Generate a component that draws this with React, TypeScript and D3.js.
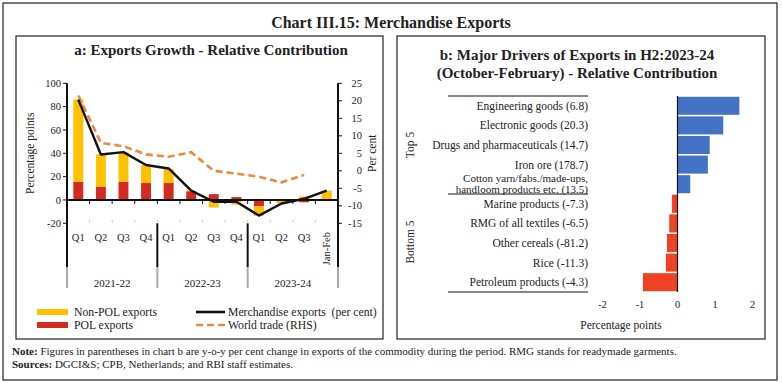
import React from "react";
import * as d3 from "d3";

// ---------- Panel a data ----------
const categories = ["Q1", "Q2", "Q3", "Q4", "Q1", "Q2", "Q3", "Q4", "Q1", "Q2", "Q3", "Jan-Feb"];
const years = ["2021-22", "2022-23", "2023-24"];
const yearSpans = [4, 4, 4];
const polExports = [15.5, 11.5, 15.5, 14.5, 14.5, 7.5, 5, 2.5, -5.5, -0.3, -2, 0.3];
const nonPolExports = [70.5, 27.5, 25.5, 15.5, 12, 0.5, -6.5, -4, -8, -2.6, 3, 7.7];
const merchandiseExports = [86, 39, 41, 30, 27, 8, -1.5, -1.5, -13.4, -3, 1, 8];
const worldTrade: (number | null)[] = [21.5, 8, 7, 4.7, 4, 5.3, 0, -0.8, -1.7, -3.3, -1.2, null];
const leftTicks = [-20, 0, 20, 40, 60, 80, 100];
const rightTicks = [-15, -10, -5, 0, 5, 10, 15, 20, 25];

// ---------- Panel b data ----------
const drivers = [
  "Engineering goods (6.8)",
  "Electronic goods (20.3)",
  "Drugs and pharmaceuticals (14.7)",
  "Iron ore (178.7)",
  "Cotton yarn/fabs./made-ups,|handloom products etc. (13.5)",
  "Marine products (-7.3)",
  "RMG of all textiles (-6.5)",
  "Other cereals (-81.2)",
  "Rice (-11.3)",
  "Petroleum products (-4.3)",
];
const driverValues = [1.65, 1.22, 0.86, 0.81, 0.34, -0.15, -0.22, -0.28, -0.31, -0.92];
const driverTicks = [-2, -1, 0, 1, 2];

const FONT = "'Liberation Serif', 'DejaVu Serif', serif";
const YELLOW = "#FFC000";
const RED = "#D42A22";
const ORANGE = "#F4863A";
const BLUE = "#4472C4";
const BRED = "#EF4123";
const TXT = "#222";

export default function App() {
  const plotL = 67, plotR = 338, plotT = 83.3, plotB = 223.3;
  const idx = categories.map((_, i) => i);
  const x = d3.scaleBand<number>().domain(idx).range([plotL, plotR]).paddingInner(0.56).paddingOuter(0.28);
  const yL = d3.scaleLinear().domain([-20, 100]).range([plotB, plotT]);
  const yR = d3.scaleLinear().domain([-15, 25]).range([plotB, plotT]);
  const step = x.step();
  const cx = (i: number) => (x(i) as number) + x.bandwidth() / 2;

  const rows = idx.map((i) => ({ pol: polExports[i], non: nonPolExports[i] }));
  const stack = d3.stack<{ pol: number; non: number }>().keys(["pol", "non"]).offset(d3.stackOffsetDiverging);
  const series = stack(rows);
  const colors: Record<string, string> = { pol: RED, non: YELLOW };

  const merchLine = d3.line<number>().x((_, i) => cx(i)).y((d) => yL(d));
  const wtLine = d3
    .line<number | null>()
    .defined((d) => d !== null)
    .x((_, i) => cx(i))
    .y((d) => yR(d as number));

  const bounds: number[] = [];
  let acc = 0;
  yearSpans.forEach((s) => {
    bounds.push(plotL + acc * step);
    acc += s;
  });
  bounds.push(plotL + acc * step);

  const yB = d3.scaleBand<string>().domain(drivers).range([96, 292]).paddingInner(0.08).paddingOuter(0.04);
  const xB = d3.scaleLinear().domain([-2, 2]).range([602.5, 752.5]);
  const midSep = (yB(drivers[4]) as number) + yB.bandwidth() + (yB.step() - yB.bandwidth()) / 2;

  return (
    <svg
      width={782}
      height={383}
      style={{ position: "absolute", left: 0, top: 0, background: "#fff" }}
      fontFamily={FONT}
    >
      <rect x={0} y={0} width={782} height={383} fill="#fff" />
      <rect x={3} y={3} width={774} height={377} fill="none" stroke="#222" strokeWidth={1.2} />
      <text x={391} y={22} textAnchor="middle" dy="0.35em" fontSize={16} fontWeight="bold" fill={TXT}>
        Chart III.15: Merchandise Exports
      </text>

      <rect x={16} y={36} width={367} height={303} fill="none" stroke="#222" strokeWidth={1.2} />
      <rect x={397} y={36} width={368} height={303} fill="none" stroke="#222" strokeWidth={1.2} />

      {/* ---------- Panel a ---------- */}
      <text x={211} y={50} textAnchor="middle" dy="0.35em" fontSize={15} fontWeight="bold" fill={TXT}>
        a: Exports Growth - Relative Contribution
      </text>

      {series.map((s) =>
        s.map((d, i) => {
          const y0 = yL(d[0]);
          const y1 = yL(d[1]);
          const h = Math.abs(y0 - y1);
          if (h < 0.01) return null;
          return (
            <rect
              key={s.key + i}
              x={x(i) as number}
              y={Math.min(y0, y1)}
              width={x.bandwidth()}
              height={h}
              fill={colors[s.key]}
            />
          );
        })
      )}

      <line x1={plotL} x2={plotR} y1={yL(0)} y2={yL(0)} stroke="#111" strokeWidth={2} />
      {d3.range(1, categories.length).map((i) => (
        <g key={"xt" + i}>
          <line x1={plotL + i * step} x2={plotL + i * step} y1={yL(0)} y2={yL(0) + 4} stroke="#111" strokeWidth={1} />
          <line x1={plotL + i * step} x2={plotL + i * step} y1={plotB - 3} y2={plotB - 1} stroke="#bbb" strokeWidth={1} />
        </g>
      ))}

      <path d={wtLine(worldTrade) || ""} fill="none" stroke={ORANGE} strokeWidth={2.6} strokeDasharray="7,4" />
      <path d={merchLine(merchandiseExports) || ""} fill="none" stroke="#111" strokeWidth={2.4} strokeLinejoin="round" />

      <line x1={plotL} x2={plotL} y1={plotT} y2={267} stroke="#111" strokeWidth={2} />
      {leftTicks.map((t) => (
        <g key={"lt" + t}>
          <line x1={plotL - 4} x2={plotL} y1={yL(t)} y2={yL(t)} stroke="#111" strokeWidth={1} />
          <text x={61} y={yL(t)} dy="0.35em" textAnchor="end" fontSize={10.5} fill={TXT}>
            {t}
          </text>
        </g>
      ))}
      <text
        transform={`translate(30,${(plotT + plotB) / 2}) rotate(-90)`}
        textAnchor="middle"
        dy="0.35em"
        fontSize={11.5}
        fill={TXT}
      >
        Percentage points
      </text>

      <line x1={plotR} x2={plotR} y1={plotT} y2={267} stroke="#111" strokeWidth={2} />
      {rightTicks.map((t) => (
        <g key={"rt" + t}>
          <line x1={plotR} x2={plotR + 4} y1={yR(t)} y2={yR(t)} stroke="#111" strokeWidth={1} />
          <text x={362} y={yR(t)} dy="0.35em" textAnchor="end" fontSize={10.5} fill={TXT}>
            {t}
          </text>
        </g>
      ))}
      <text
        transform={`translate(372,${(plotT + plotB) / 2}) rotate(-90)`}
        textAnchor="middle"
        dy="0.35em"
        fontSize={11.5}
        fill={TXT}
      >
        Per cent
      </text>

      {categories.map((c, i) =>
        c.length > 2 ? (
          <text
            key={"cl" + i}
            transform={`translate(${cx(i)},232) rotate(-90)`}
            textAnchor="end"
            dy="0.35em"
            fontSize={10.5}
            fill={TXT}
          >
            {c}
          </text>
        ) : (
          <text key={"cl" + i} x={cx(i)} y={237} dy="0.35em" textAnchor="middle" fontSize={10.5} fill={TXT}>
            {c}
          </text>
        )
      )}

      {bounds.map((b, i) => (
        <g key={"gb" + i}>
          {i > 0 && i < bounds.length - 1 && (
            <line x1={b} x2={b} y1={plotB} y2={267} stroke="#111" strokeWidth={2} />
          )}
          <line x1={b} x2={b} y1={267} y2={288} stroke="#aaa" strokeWidth={2} />
        </g>
      ))}
      {years.map((yr, i) => (
        <text
          key={yr}
          x={(bounds[i] + bounds[i + 1]) / 2}
          y={283}
          dy="0.35em"
          textAnchor="middle"
          fontSize={11}
          fill={TXT}
        >
          {yr}
        </text>
      ))}

      {/* legend */}
      <rect x={37} y={309} width={31} height={6} fill={YELLOW} />
      <text x={74} y={312} dy="0.35em" fontSize={11.7} fill={TXT}>Non-POL exports</text>
      <rect x={37} y={322} width={31} height={6} fill={RED} />
      <text x={74} y={325} dy="0.35em" fontSize={11.7} fill={TXT}>POL exports</text>
      <line x1={196} x2={225} y1={312} y2={312} stroke="#111" strokeWidth={2.6} />
      <text x={228} y={312} dy="0.35em" fontSize={11.7} fill={TXT} xmlSpace="preserve">Merchandise exports  (per cent)</text>
      <line x1={196} x2={225} y1={325} y2={325} stroke={ORANGE} strokeWidth={2.6} strokeDasharray="7,4" />
      <text x={228} y={325} dy="0.35em" fontSize={11.7} fill={TXT}>World trade (RHS)</text>

      {/* ---------- Panel b ---------- */}
      <text x={577} y={55} textAnchor="middle" dy="0.35em" fontSize={15} fontWeight="bold" fill={TXT}>
        b: Major Drivers of Exports in H2:2023-24
      </text>
      <text x={577} y={73} textAnchor="middle" dy="0.35em" fontSize={15} fontWeight="bold" fill={TXT}>
        (October-February) - Relative Contribution
      </text>

      {drivers.map((d, i) => {
        const v = driverValues[i];
        const x0 = xB(Math.min(0, v));
        const w = Math.abs(xB(v) - xB(0));
        const yy = yB(d) as number;
        const cy = yy + yB.bandwidth() / 2;
        const parts = d.split("|");
        return (
          <g key={"dr" + i}>
            <rect x={x0} y={yy} width={w} height={yB.bandwidth()} fill={v >= 0 ? BLUE : BRED} />
            {parts.length === 1 ? (
              <text x={588} y={cy} dy="0.35em" textAnchor="end" fontSize={11.5} fill={TXT}>
                {d}
              </text>
            ) : (
              parts.map((p, k) => (
                <text
                  key={k}
                  x={588}
                  y={cy - 6 + k * 10.5}
                  dy="0.35em"
                  textAnchor="end"
                  fontSize={11}
                  fill={TXT}
                >
                  {p}
                </text>
              ))
            )}
          </g>
        );
      })}
      <line x1={xB(0)} x2={xB(0)} y1={96} y2={292} stroke="#111" strokeWidth={1.2} />
      {[96, midSep, 292].map((yy, i) => (
        <line key={"sep" + i} x1={448} x2={588} y1={yy} y2={yy} stroke="#111" strokeWidth={1.2} />
      ))}
      <text transform={`translate(410,145) rotate(-90)`} textAnchor="middle" dy="0.35em" fontSize={11.5} fill={TXT}>
        Top 5
      </text>
      <text transform={`translate(410,242) rotate(-90)`} textAnchor="middle" dy="0.35em" fontSize={11.5} fill={TXT}>
        Bottom 5
      </text>
      {driverTicks.map((t) => (
        <text key={"bt" + t} x={xB(t)} y={304} dy="0.35em" textAnchor="middle" fontSize={10.5} fill={TXT}>
          {t}
        </text>
      ))}
      <text x={621} y={325} dy="0.35em" textAnchor="middle" fontSize={11.5} fill={TXT}>
        Percentage points
      </text>

      <text x={12} y={351} dy="0.35em" fontSize={11} fill={TXT}>
        <tspan fontWeight="bold">Note:</tspan> Figures in parentheses in chart b are y-o-y per cent change in exports of the
        commodity during the period. RMG stands for readymade garments.
      </text>
      <text x={12} y={364} dy="0.35em" fontSize={11} fill={TXT}>
        <tspan fontWeight="bold">Sources:</tspan> DGCI&amp;S; CPB, Netherlands; and RBI staff estimates.
      </text>
    </svg>
  );
}
